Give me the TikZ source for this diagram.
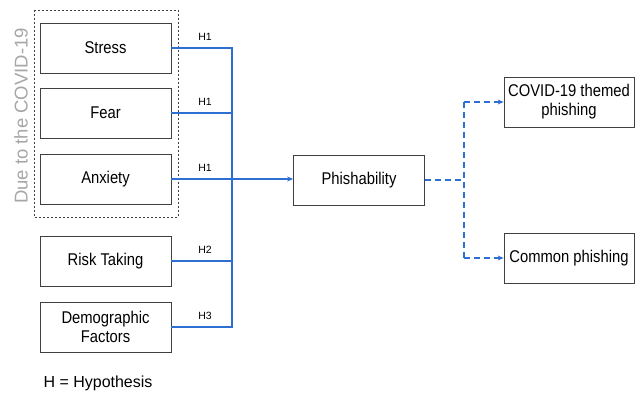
\documentclass[tikz,border=0pt]{standalone}
\usepackage{fontspec}
\setmainfont{Liberation Sans}
\newfontfamily\boxfont[FakeStretch=0.87]{Liberation Sans}
\usetikzlibrary{arrows.meta}
\definecolor{lnblue}{HTML}{2E6FD3}
\definecolor{boxgray}{HTML}{404040}
\tikzset{
  box/.style={draw=boxgray, line width=0.8pt, minimum width=131pt, minimum height=50pt, inner sep=1pt, align=center, font=\boxfont\fontsize{17}{19}\selectfont},
  conn/.style={draw=lnblue, line width=1.8pt},
  dconn/.style={draw=lnblue, line width=1.8pt, dash pattern=on 6pt off 4pt},
  hlab/.style={font=\fontsize{10.5}{12}\selectfont, anchor=south},
  tip/.style={-{Stealth[length=6pt,width=5pt]}}
}
\begin{document}
\begin{tikzpicture}[x=1pt,y=-1pt]
\useasboundingbox (0,0) rectangle (644,395);
\draw[boxgray, dash pattern=on 2pt off 2pt, line width=0.6pt] (34,10) rectangle (178,217);
\node[rotate=90, text=gray!70, font=\fontsize{18.5}{20}\selectfont] (due) at (21,116) {Due to the COVID-19};
\node[box] (stress) at (105.5,48) {Stress};
\node[box] (fear) at (105.5,113) {Fear};
\node[box] (anx) at (105.5,179) {Anxiety};
\node[box] (risk) at (105.5,261) {Risk Taking};
\node[box] (demo) at (105.5,327) {Demographic\\Factors};
\node[box] (phish) at (359,180) {Phishability};
\node[box, minimum width=130pt] (covid) at (569,102) {COVID-19 themed\\phishing};
\node[box, minimum width=130pt] (common) at (569,258) {Common phishing};
\coordinate (bt) at (232,48);
\coordinate (bb) at (232,327);
\draw[conn] (stress.east) -- (bt) -- (bb) -- (demo.east);
\draw[conn] (fear.east) -- (232,113);
\draw[conn] (risk.east) -- (232,261);
\draw[conn, tip] (anx.east) -- (phish.west |- anx.east);
\node[hlab] (h1a) at (205,44) {H1};
\node[hlab] (h1b) at (205,109) {H1};
\node[hlab] (h1c) at (205,175) {H1};
\node[hlab] (h2) at (205,257) {H2};
\node[hlab] (h3) at (205,323) {H3};
\coordinate (dj) at (464,180);
\draw[dconn] (phish.east) -- (dj);
\draw[dconn] (464,102) -- (464,258);
\draw[dconn, tip] (464,102) -- (covid.west);
\draw[dconn, tip] (464,258) -- (common.west);
\node[anchor=west, font=\fontsize{16}{18}\selectfont] (legend) at (40,383) {H = Hypothesis};
\end{tikzpicture}
\end{document}
